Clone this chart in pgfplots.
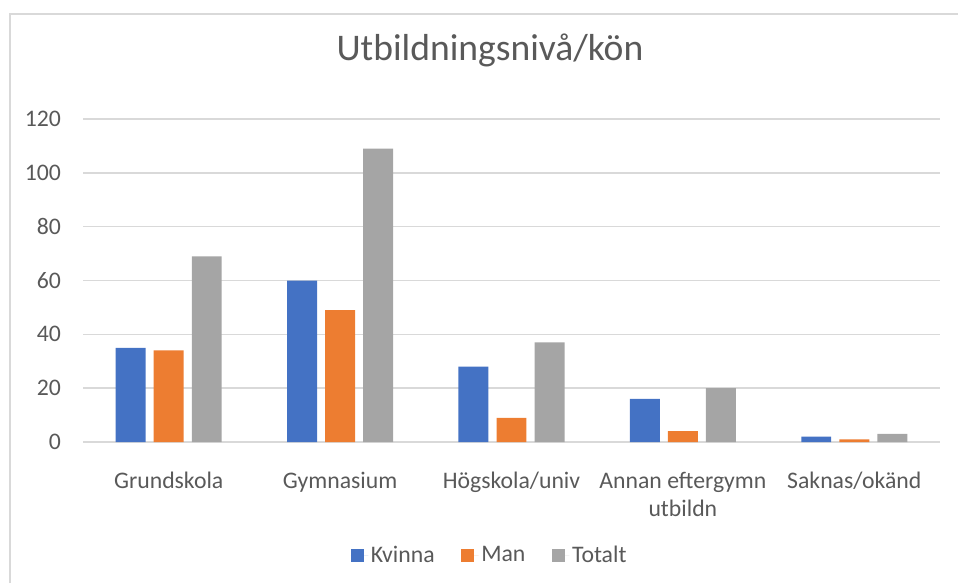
\documentclass[border=0pt]{standalone}
\usepackage{pgfplots}
\pgfplotsset{compat=1.18}
\usepackage{fontspec}
\setmainfont{Carlito}
\definecolor{kv}{HTML}{4472C4}
\definecolor{ma}{HTML}{ED7D31}
\definecolor{to}{HTML}{A5A5A5}
\definecolor{tx}{HTML}{595959}
\definecolor{gr}{HTML}{D9D9D9}
\begin{document}
\begin{tikzpicture}
\useasboundingbox (0pt,0pt) rectangle (718.5pt,437.25pt);
\draw[gr, line width=1.4pt] (7.5pt,0pt) -- (7.5pt,426.75pt) -- (718.5pt,426.75pt);
\node[text=tx, font=\fontsize{28.2}{33}\selectfont] at (367.5pt,399.75pt) {Utbildningsnivå/kön};
\begin{axis}[
  at={(62.25pt,105.75pt)}, anchor=south west,
  scale only axis, width=642.75pt, height=242.25pt,
  xmin=-0.5, xmax=4.5, ymin=0, ymax=120,
  ytick={0,20,...,120},
  xtick={0,1,2,3,4},
  xticklabels={Grundskola,Gymnasium,Högskola/univ,{Annan eftergymn\\utbildn},Saknas/okänd},
  /pgf/number format/assume math mode=true,
  axis line style={draw=none},
  major tick length=0pt,
  ymajorgrids,
  grid style={gr, line width=1.1pt},
  tick label style={text=tx, font=\fontsize{17.8}{21}\selectfont},
  xticklabel style={align=center, yshift=-19pt},
  yticklabel style={xshift=-13pt},
  legend columns=3,
  legend style={draw=none, at={(0.475,-0.35)}, anchor=center, font=\fontsize{17.8}{21}\selectfont, text=tx,
    /tikz/every even column/.append style={column sep=18pt}},
  legend image code/.code={\fill[#1] (0pt,-4.9pt) rectangle (9.8pt,4.9pt); \path (0pt,0pt) -- (13pt,0pt);},
]
\addplot[ybar, bar width=0.175, bar shift=-0.222, fill=kv, draw=none] coordinates {(0,35) (1,60) (2,28) (3,16) (4,2)};
\addplot[ybar, bar width=0.175, bar shift=0, fill=ma, draw=none] coordinates {(0,34) (1,49) (2,9) (3,4) (4,1)};
\addplot[ybar, bar width=0.175, bar shift=0.222, fill=to, draw=none] coordinates {(0,69) (1,109) (2,37) (3,20) (4,3)};
\legend{Kvinna,Man,Totalt}
\end{axis}
\end{tikzpicture}
\end{document}
